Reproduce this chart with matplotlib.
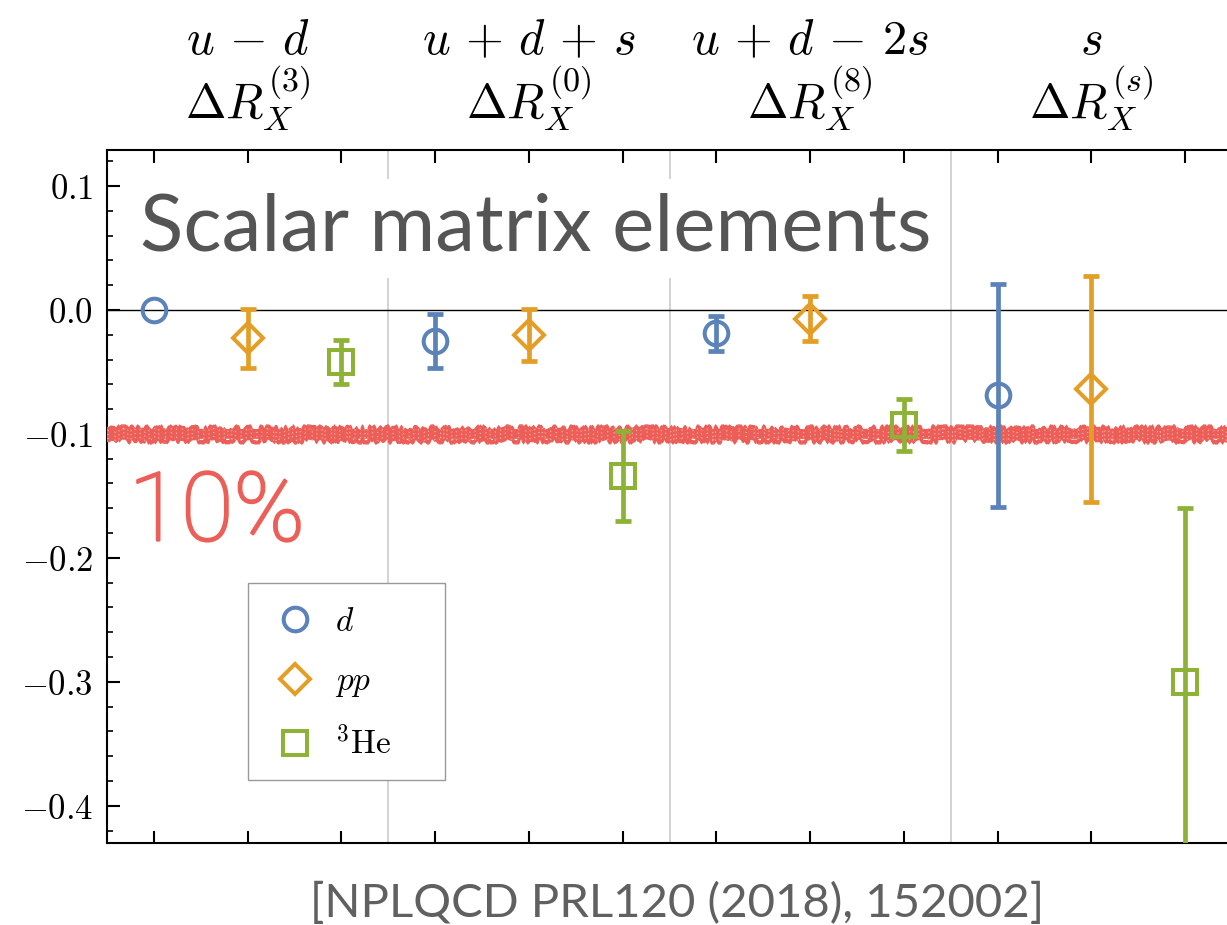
import numpy as np
import matplotlib
matplotlib.use("Agg")
import matplotlib.pyplot as plt
from matplotlib.lines import Line2D
from matplotlib.patches import Rectangle
import matplotlib.transforms as mtransforms
import matplotlib.patheffects as pe

plt.rcParams['mathtext.fontset'] = 'cm'
plt.rcParams['font.family'] = 'DejaVu Serif'

# Groups of flavour combinations (three nuclei per group)
group_top = [r'$u\,-\,d$', r'$u\,+\,d\,+\,s$', r'$u\,+\,d\,-\,2s$', r'$s$']
group_bottom = [r'$\Delta R_X^{(3)}$', r'$\Delta R_X^{(0)}$',
                r'$\Delta R_X^{(8)}$', r'$\Delta R_X^{(s)}$']

# Values per nucleus, one entry per group
d_val = [0.0, -0.025, -0.019, -0.069]
d_err = [0.0, 0.022, 0.014, 0.090]
pp_val = [-0.023, -0.020, -0.007, -0.064]
pp_err = [0.024, 0.021, 0.018, 0.091]
he_val = [-0.042, -0.134, -0.093, -0.300]
he_err = [0.018, 0.036, 0.021, 0.140]

nuclei = [r'$d$', r'$pp$', r'$^3\mathrm{He}$']
colors = ['#5B82B9', '#E39E26', '#8DB236']
markers = ['o', 'D', 's']
msizes = [17, 15, 17]

band_level = -0.1
band_color = '#EC5F58'

fig = plt.figure(figsize=(12.27, 9.25), dpi=100)
ax = fig.add_axes([107 / 1227, 1 - 843 / 925, 1125 / 1227, 693 / 925])

ax.set_xlim(-0.5, 11.5)
ax.set_ylim(-0.43, 0.129)

series = [(d_val, d_err), (pp_val, pp_err), (he_val, he_err)]
for k, (vals, errs) in enumerate(series):
    x = np.arange(len(vals)) * 3 + k
    vals = np.asarray(vals)
    errs = np.asarray(errs)
    has_err = errs > 0
    ax.errorbar(x[has_err], vals[has_err], yerr=errs[has_err], fmt='none',
                ecolor=colors[k], elinewidth=3.4, capsize=6, capthick=3.4,
                zorder=4)
    ax.plot(x, vals, linestyle='none', marker=markers[k], ms=msizes[k],
            mfc='none', mec=colors[k], mew=2.9, zorder=5)

# Reference line and group separators
ax.axhline(0.0, color='black', lw=1.0, zorder=2)
for xs in [2.5, 5.5, 8.5]:
    ax.axvline(xs, color='#cccccc', lw=1.2, zorder=1)

# Rough, chalk-like 10% band
ax.axhline(band_level, color=band_color, lw=7.0, zorder=3)
for off, lw in [(0.0038, 2.4), (-0.0038, 2.4), (0.0055, 1.0), (-0.0055, 1.0)]:
    ln = ax.axhline(band_level + off, color=band_color, lw=lw, zorder=3)
    ln.set_sketch_params(scale=2.5, length=9.0, randomness=60.0)
for off in [0.003, -0.003, 0.0]:
    ln = ax.axhline(band_level + off, color='white', lw=0.7, alpha=0.5, zorder=3,
                    dashes=(1.5, 7))
    ln.set_sketch_params(scale=2.0, length=5.0, randomness=50.0)

ax.text(-0.27, -0.186, '10%', color=band_color, fontsize=69,
        family='Roboto', weight='light', zorder=6,
        path_effects=[pe.withStroke(linewidth=1.6, foreground=band_color)])
ax.text(-0.15, 0.048, 'Scalar matrix elements', color='#555555', fontsize=57.5,
        family='Lato', zorder=6,
        bbox=dict(facecolor='white', edgecolor='none', pad=10))

# Ticks
ax.set_xticks(np.arange(12))
ax.set_xticklabels([])
ax.set_yticks([0.1, 0.0, -0.1, -0.2, -0.3, -0.4])
ax.set_yticklabels([r'$0.1$', r'$0.0$', r'$-0.1$', r'$-0.2$', r'$-0.3$', r'$-0.4$'])
ax.set_yticks(np.arange(-0.42, 0.13, 0.02), minor=True)
ax.tick_params(axis='both', which='major', direction='in', top=True, right=False,
               length=9, width=1.5, labelsize=25, pad=10)
ax.tick_params(axis='y', which='minor', direction='in', right=False,
               length=4.5, width=1.2)
ax.tick_params(axis='x', which='minor', bottom=False, top=False)
for sp in ax.spines.values():
    sp.set_linewidth(1.5)

# Group labels above the axes
trans = mtransforms.blended_transform_factory(ax.transData, ax.transAxes)
for g in range(4):
    xc = 3 * g + 1
    ax.text(xc, 1.158, group_top[g], transform=trans, ha='center', va='center',
            fontsize=35)
    ax.text(xc, 1.075, group_bottom[g], transform=trans, ha='center', va='center',
            fontsize=35)

# Legend: entries without frame, box drawn separately for extra padding
handles = [Line2D([], [], linestyle='none', marker=markers[k], ms=msizes[k],
                  mfc='none', mec=colors[k], mew=2.9) for k in range(3)]
box_x0, box_y1 = 0.125, 0.375
box_w, box_h = 0.175, 0.284
ax.add_patch(Rectangle((box_x0, box_y1 - box_h), box_w, box_h,
                       transform=ax.transAxes, facecolor='white',
                       edgecolor='#999999', lw=1.0, zorder=6))
leg = ax.legend(handles, nuclei, loc='upper left',
                bbox_to_anchor=(box_x0 - 0.002, box_y1 - 0.004),
                fontsize=24, frameon=False, handlelength=1.8, handletextpad=0.3,
                labelspacing=0.82, borderpad=0.6, borderaxespad=0)
leg.set_zorder(7)

fig.text(677 / 1227, 1 - 903 / 925, '[NPLQCD PRL120 (2018), 152002]',
         ha='center', va='center', fontsize=34, color='#606060',
         family='Lato')

fig.savefig('out.png', dpi=100)
